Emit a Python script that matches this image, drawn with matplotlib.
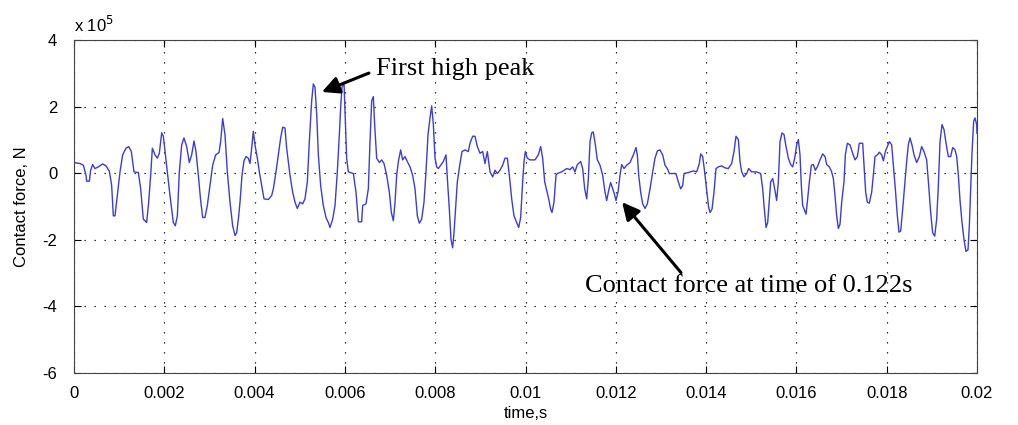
import numpy as np
import matplotlib

matplotlib.use("Agg")
from matplotlib import pyplot as plt


# ----------------
# Data
# ----------------

# time in ms
time_ms = [
    0.000, 0.133, 0.207, 0.266, 0.281, 0.340, 0.369, 0.413, 0.465, 0.539,
    0.635, 0.709, 0.783, 0.834, 0.871, 0.908, 0.960, 1.019, 1.078, 1.152,
    1.211, 1.270, 1.329, 1.425, 1.477, 1.535, 1.609, 1.654, 1.698, 1.735,
    1.794, 1.846, 1.890, 1.942, 1.979, 2.016, 2.067, 2.126, 2.200, 2.244,
    2.289, 2.333, 2.385, 2.436, 2.495, 2.554, 2.606, 2.658, 2.702, 2.754,
    2.805, 2.850, 2.901, 2.953, 3.012, 3.071, 3.138, 3.212, 3.248, 3.293,
    3.344, 3.396, 3.455, 3.514, 3.566, 3.603, 3.640, 3.677, 3.721, 3.765,
    3.810, 3.861, 3.898, 3.935, 3.972, 4.009, 4.061, 4.105, 4.157, 4.208,
    4.304, 4.378, 4.415, 4.474, 4.526, 4.577, 4.622, 4.673, 4.710, 4.784,
    4.843, 4.895, 4.946, 5.006, 5.065, 5.116, 5.168, 5.212, 5.264, 5.301,
    5.338, 5.375, 5.412, 5.463, 5.522, 5.581, 5.633, 5.670, 5.729, 5.781,
    5.832, 5.877, 5.906, 5.936, 5.980, 6.010, 6.039, 6.076, 6.187, 6.246,
    6.298, 6.371, 6.394, 6.467, 6.519, 6.556, 6.593, 6.630,
    6.659, 6.704, 6.763, 6.814, 6.866, 6.925, 6.984, 7.029, 7.073, 7.110,
    7.147, 7.184, 7.235, 7.279, 7.331, 7.383, 7.442, 7.501, 7.553, 7.604,
    7.649, 7.700, 7.752, 7.796, 7.841, 7.885, 7.922, 7.959, 7.996, 8.033,
    8.069, 8.121, 8.180, 8.239, 8.269, 8.313, 8.350, 8.387, 8.416, 8.461,
    8.490, 8.549, 8.594, 8.660, 8.734, 8.771, 8.830, 8.882, 8.933, 8.992,
    9.051, 9.103, 9.155, 9.214, 9.273, 9.325, 9.376, 9.435, 9.494, 9.546,
    9.598, 9.642, 9.694, 9.745, 9.804, 9.849, 9.893,
    9.937, 9.967, 9.996, 10.041, 10.100, 10.210, 10.284, 10.336, 10.380, 10.425,
    10.469, 10.513, 10.557, 10.587, 10.631, 10.676, 10.705, 10.801, 10.912, 10.986,
    11.045, 11.096, 11.148, 11.222, 11.266, 11.311, 11.355, 11.392, 11.429, 11.466,
    11.502, 11.547, 11.591, 11.650, 11.709, 11.761, 11.798, 11.842, 11.886, 11.931,
    11.968, 12.004, 12.049, 12.093, 12.130, 12.182, 12.241, 12.315, 12.389, 12.448,
    12.477, 12.507, 12.551, 12.595, 12.647, 12.698, 12.758, 12.817, 12.868, 12.920,
    12.979, 13.038, 13.090, 13.141, 13.186,
    13.260, 13.333, 13.385, 13.437, 13.481, 13.511, 13.607, 13.717, 13.791, 13.850,
    13.880, 13.924, 13.968, 14.013, 14.057, 14.087, 14.131, 14.175, 14.219, 14.271,
    14.345, 14.419, 14.492, 14.566, 14.618, 14.662, 14.714, 14.751, 14.788, 14.840,
    14.899, 14.943, 15.009, 15.120, 15.209, 15.253, 15.290, 15.327, 15.364, 15.401,
    15.430, 15.475, 15.519, 15.563, 15.600, 15.637, 15.681, 15.726, 15.770, 15.822,
    15.873, 15.918, 15.962, 16.006, 16.043, 16.080, 16.109, 16.139, 16.183, 16.213,
    16.242, 16.287, 16.331, 16.375, 16.420, 16.464, 16.523, 16.582,
    16.634, 16.671, 16.730, 16.781, 16.818, 16.855, 16.892, 16.929, 16.966, 17.003,
    17.054, 17.084, 17.128, 17.187, 17.246, 17.298, 17.350, 17.394, 17.468, 17.497,
    17.534, 17.571, 17.615, 17.667, 17.704, 17.741, 17.793, 17.837, 17.889, 17.926,
    17.970, 18.014, 18.058, 18.110, 18.147, 18.191, 18.236, 18.272, 18.309, 18.354,
    18.405, 18.442, 18.479, 18.516, 18.560, 18.605, 18.664, 18.723, 18.774, 18.826,
    18.885, 18.930, 18.974, 19.018, 19.063, 19.107, 19.144, 19.181, 19.225, 19.269,
    19.314, 19.365, 19.417, 19.461, 19.513, 19.550, 19.587, 19.624, 19.668, 19.712,
    19.756, 19.801, 19.830, 19.860, 19.889, 19.926, 19.956, 19.993, 20.000,
]

# contact force in units of 1e5 N
force_e5 = [
    0.32, 0.29, 0.24, -0.06, -0.24, -0.24, 0.09, 0.26, 0.14, 0.19,
    0.28, 0.22, 0.06, -0.37, -1.28, -1.28, -0.67, 0.04, 0.55, 0.75,
    0.80, 0.65, 0.04, 0.02, -0.47, -1.38, -1.48, -0.87, -0.06, 0.75,
    0.55, 0.45, 0.60, 1.21, 1.11, 0.65, 0.04, -0.67, -1.48, -1.58,
    -1.28, 0.04, 0.85, 1.06, 0.80, 0.32, 0.55, 0.97, 0.65, -0.06,
    -0.82, -1.33, -1.33, -0.97, -0.37, 0.24, 0.55, 0.62, 0.95, 1.64,
    1.16, 0.04, -0.87, -1.58, -1.87, -1.79, -1.38, -0.87, -0.06, 0.37,
    0.50, 0.45, 0.29, 0.75, 1.26, 0.85, 0.45, 0.04, -0.37, -0.77,
    -0.79, -0.67, -0.47, 0.04, 0.55, 1.06, 1.38, 1.36, 0.75, -0.06,
    -0.57, -0.87, -1.06, -0.87, -0.92, -0.77, -0.26, 0.95, 2.17, 2.68,
    2.58, 1.77, 0.55, -0.37, -0.97, -1.33, -1.48, -1.63, -1.38, -0.97,
    0.04, 1.16, 1.97, 2.58, 2.72, 1.56, 0.45, 0.04, -0.01, -0.57,
    -1.46, -1.46, -0.97, -0.92, -0.47, 0.95, 2.17, 2.30,
    1.46, 0.45, 0.32, 0.40, 0.29, -0.06, -0.57, -1.18, -1.43, -0.87,
    -0.06, 0.35, 0.70, 0.40, 0.50, 0.35, 0.19, -0.06, -0.47, -1.28,
    -1.50, -1.38, -0.87, 0.04, 1.16, 1.66, 2.02, 1.46, 0.45, 0.19,
    0.14, 0.24, 0.35, 0.55, -0.16, -1.08, -1.99, -2.24, -1.79, -0.87,
    -0.26, 0.29, 0.65, 0.70, 0.65, 0.90, 1.11, 1.11, 0.80, 0.60,
    0.65, 0.29, 0.65, 0.04, -0.11, 0.09, -0.01, 0.09, 0.24, 0.45,
    0.45, -0.06, -0.77, -1.28, -1.48, -1.63, -1.33,
    -0.26, 0.35, 0.65, 0.45, 0.40, 0.40, 0.55, 0.80, 0.45, -0.26,
    -0.52, -0.77, -1.08, -1.18, -0.87, -0.06, -0.01, 0.04, 0.14, 0.11,
    0.19, 0.04, 0.26, 0.35, 0.14, -0.47, -0.77, -0.16, 0.95, 1.21,
    1.24, 0.85, 0.40, 0.24, -0.06, -0.57, -0.82, -0.52, -0.28, -0.47,
    -0.62, -0.82, -0.57, -0.06, 0.26, 0.14, 0.24, 0.32, 0.55, 0.77,
    0.55, -0.06, -0.57, -0.92, -1.06, -0.92, -0.47, 0.04, 0.45, 0.67,
    0.70, 0.55, 0.24, 0.14, -0.01,
    -0.01, -0.01, -0.26, -0.47, -0.37, -0.01, 0.02, 0.07, 0.04, 0.29,
    0.58, 0.50, 0.04, -0.52, -1.03, -1.18, -1.08, -0.57, 0.14, 0.19,
    0.22, 0.16, 0.14, 0.29, 0.65, 1.11, 1.01, 0.35, 0.04, -0.11,
    -0.01, 0.14, 0.04, 0.04, -0.01, -0.47, -1.08, -1.63, -1.48, -0.77,
    -0.26, -0.16, -0.47, -0.82, -0.26, 0.95, 1.21, 1.16, 0.80, 0.45,
    0.26, 0.19, 0.45, 0.85, 1.01, 0.55, -0.37, -0.97, -1.13, -1.23,
    -0.87, -0.26, 0.24, 0.26, 0.09, 0.19, 0.40, 0.58,
    0.50, 0.26, 0.19, 0.04, -0.16, -0.67, -1.28, -1.66, -1.53, -0.87,
    -0.26, 0.55, 0.90, 0.85, 0.60, 0.40, 0.50, 0.90, 0.90, 0.24,
    -0.57, -0.87, -0.90, -0.57, -0.06, 0.50, 0.55, 0.63, 0.55, 0.37,
    0.65, 0.80, 0.95, 0.85, 0.24, -0.47, -1.28, -1.77, -1.74, -1.08,
    -0.26, 0.35, 0.85, 1.06, 0.85, 0.55, 0.32, 0.50, 0.80, 0.65,
    0.40, -0.37, -1.18, -1.79, -1.89, -1.38, -0.37, 0.95, 1.46, 1.31,
    0.90, 0.50, 0.50, 0.77, 0.70, 0.50, -0.06, -0.82, -1.48, -1.99,
    -2.35, -2.30, -1.58, -0.47, 0.60, 1.56, 1.66, 1.46, 1.20,
]

x_ticks = [0, 0.002, 0.004, 0.006, 0.008, 0.01, 0.012, 0.014, 0.016, 0.018, 0.02]
x_tick_labels = ["0", "0.002", "0.004", "0.006", "0.008", "0.01",
                 "0.012", "0.014", "0.016", "0.018", "0.02"]
y_ticks = [-6, -4, -2, 0, 2, 4]


# ----------------
# Plot
# ----------------

sans = "Liberation Sans"
serif = "Liberation Serif"

t = np.array(time_ms) * 1e-3
f = np.array(force_e5)

fig = plt.figure(figsize=(10.18, 4.25), dpi=100)
ax = fig.add_axes([74 / 1018, 1 - 373 / 425, 903 / 1018, 333 / 425])

ax.plot(t, f, color="#3c3cd8", linewidth=1.0)

ax.set_xlim(0, 0.02)
ax.set_ylim(-6, 4)
ax.set_xticks(x_ticks)
ax.set_xticklabels(x_tick_labels, fontfamily=sans, fontsize=12)
ax.set_yticks(y_ticks)
ax.set_yticklabels([str(v) for v in y_ticks], fontfamily=sans, fontsize=12)
ax.tick_params(direction="in", top=True, right=True, length=5, width=0.8)
ax.tick_params(axis="x", pad=9)
ax.tick_params(axis="y", pad=12)
ax.grid(True, linestyle=(0, (1, 7)), color="black", linewidth=0.9)
for s in ax.spines.values():
    s.set_color("#444444")

ax.set_xlabel("time,s", fontfamily=sans, fontsize=12, labelpad=4)
ax.set_ylabel("Contact force, N", fontfamily=sans, fontsize=12, labelpad=10)
ax.text(0.0, 1.015, r"x 10$^5$", transform=ax.transAxes, fontfamily=sans,
        fontsize=12, ha="left", va="bottom")

# annotations
ax.annotate("First high peak", xy=(0.00549, 2.44), xytext=(0.00668, 3.12),
            fontfamily=serif, fontsize=19, va="center", ha="left",
            arrowprops=dict(arrowstyle="-|>", color="black", lw=2.2,
                            mutation_scale=26, shrinkA=3, shrinkB=0,
                            relpos=(0.0, 0.45)))
ax.annotate("Contact force at time of 0.122s", xy=(0.01214, -0.87),
            xytext=(0.01132, -3.4),
            fontfamily=serif, fontsize=19, va="center", ha="left",
            arrowprops=dict(arrowstyle="-|>", color="black", lw=2.2,
                            mutation_scale=26, shrinkA=0, shrinkB=0,
                            relpos=(0.3, 1.0)))

fig.savefig("out.png", dpi=100)
